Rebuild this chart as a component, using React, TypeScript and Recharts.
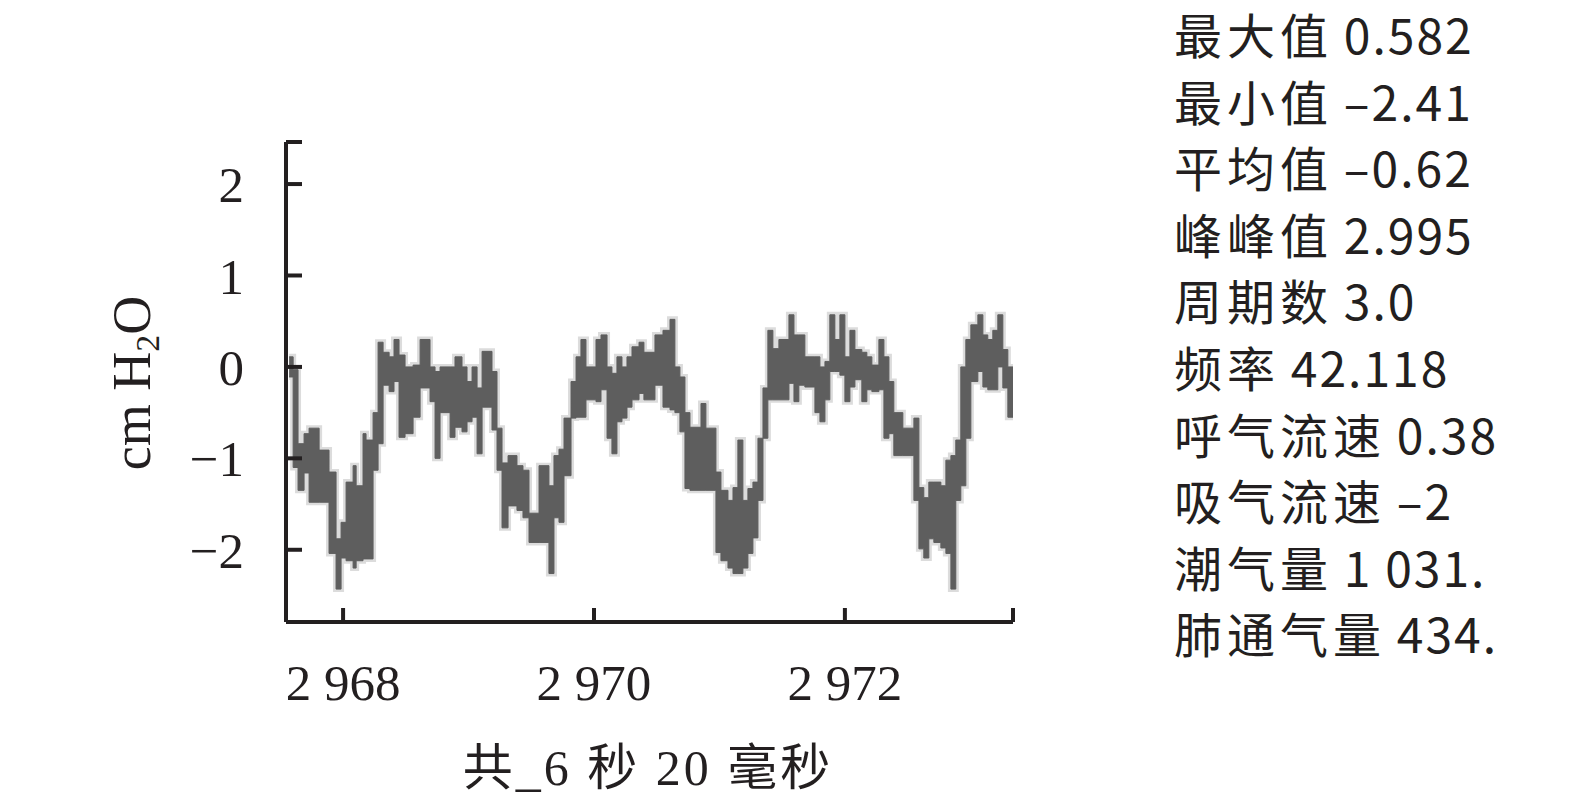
import { Area, ComposedChart, XAxis, YAxis } from 'recharts'

// time (s) and envelope of the pressure trace (cm H2O)
const times = [
  2967.57, 2967.602, 2967.641, 2967.689, 2967.729, 2967.809, 2967.888, 2967.944, 2967.984, 2968.024,
  2968.08, 2968.104, 2968.159, 2968.183, 2968.239, 2968.279, 2968.319, 2968.367, 2968.406, 2968.446,
  2968.494, 2968.558, 2968.614, 2968.693, 2968.733, 2968.773, 2968.853, 2968.892, 2968.948, 2968.988,
  2969.028, 2969.068, 2969.108, 2969.187, 2969.227, 2969.267, 2969.315, 2969.386, 2969.434, 2969.482,
  2969.562, 2969.641, 2969.681, 2969.721, 2969.761, 2969.817, 2969.857, 2969.896, 2969.936, 2970.016,
  2970.056, 2970.104, 2970.143, 2970.183, 2970.223, 2970.263, 2970.303, 2970.359, 2970.398, 2970.486,
  2970.55, 2970.606, 2970.645, 2970.685, 2970.725, 2970.765, 2970.853, 2970.892, 2970.972, 2971.012,
  2971.068, 2971.108, 2971.147, 2971.187, 2971.227, 2971.267, 2971.307, 2971.347, 2971.386, 2971.426,
  2971.474, 2971.554, 2971.594, 2971.633, 2971.681, 2971.761, 2971.801, 2971.841, 2971.88, 2971.92,
  2971.96, 2972.0, 2972.04, 2972.08, 2972.135, 2972.175, 2972.215, 2972.271, 2972.311, 2972.351,
  2972.39, 2972.462, 2972.55, 2972.59, 2972.629, 2972.669, 2972.709, 2972.765, 2972.805, 2972.845,
  2972.884, 2972.924, 2972.964, 2973.004, 2973.06, 2973.1, 2973.139, 2973.179, 2973.219, 2973.259,
  2973.299, 2973.34,
]
const highs = [
  0.11, -0.03, -0.84, -0.73, -0.67, -0.91, -1.15, -1.88, -1.7, -1.26,
  -1.08, -1.3, -0.73, -0.8, -0.5, 0.27, 0.16, 0.11, 0.3, 0.13,
  0.0, 0.02, 0.3, 0.0, -0.05, 0.0, 0.0, 0.11, 0.0, -0.16,
  0.0, -0.23, 0.17, -0.05, -0.67, -1.05, -0.97, -1.08, -1.13, -1.6,
  -1.08, -1.3, -0.97, -0.9, -0.56, -0.16, 0.11, 0.3, 0.0, 0.3,
  0.35, 0.0, -0.07, 0.11, 0.0, 0.11, 0.22, 0.27, 0.16, 0.35,
  0.4, 0.52, 0.0, -0.11, -0.5, -0.66, -0.4, -0.67, -1.15, -1.35,
  -1.46, -1.32, -0.8, -1.46, -1.33, -1.26, -0.78, -0.23, 0.4, 0.2,
  0.3, 0.57, 0.35, 0.35, 0.11, 0.11, 0.0, 0.06, 0.57, 0.3,
  0.57, 0.11, 0.4, 0.19, 0.16, 0.11, 0.02, 0.3, 0.11, -0.16,
  -0.5, -0.67, -0.56, -1.32, -1.43, -1.26, -1.26, -1.3, -1.02, -0.97,
  -0.8, 0.0, 0.3, 0.46, 0.57, 0.35, 0.3, 0.4, 0.57, 0.19,
  0.0, 0.0,
]
const lows = [
  -0.11, -1.1, -1.35, -1.16, -1.48, -1.48, -2.04, -2.43, -2.09, -2.12,
  -2.2, -2.12, -2.1, -2.1, -1.13, -0.84, -0.2, -0.27, -0.16, -0.77,
  -0.73, -0.55, -0.23, -0.38, -1.0, -0.5, -0.77, -0.66, -0.71, -0.6,
  -0.55, -0.95, -0.44, -0.69, -1.13, -1.76, -1.52, -1.57, -1.65, -1.92,
  -1.92, -2.26, -1.65, -1.7, -1.19, -0.56, -0.55, -0.55, -0.36, -0.38,
  -0.25, -0.78, -0.95, -0.6, -0.56, -0.44, -0.36, -0.29, -0.36, -0.2,
  -0.44, -0.47, -0.5, -0.71, -1.33, -1.35, -1.35, -1.35, -2.03, -2.12,
  -2.2, -2.26, -2.26, -2.2, -2.04, -1.87, -1.46, -0.78, -0.36, -0.36,
  -0.36, -0.18, -0.38, -0.2, -0.22, -0.5, -0.6, -0.36, -0.05, -0.05,
  -0.09, -0.38, -0.22, -0.14, -0.38, -0.25, -0.27, -0.25, -0.78, -0.73,
  -0.97, -0.97, -1.46, -1.99, -2.09, -1.88, -1.92, -1.98, -2.04, -2.43,
  -1.46, -1.3, -0.78, -0.16, -0.05, -0.22, -0.25, -0.25, 0.0, -0.23,
  -0.55, -0.55,
]

const xTicks = [2968, 2970, 2972, 2973.34]
const yTicks = [-2, -1, 0, 1, 2, 2.46]

const statLabels = ['最大值', '最小值', '平均值', '峰峰值', '周期数', '频率', '呼气流速', '吸气流速', '潮气量', '肺通气量']
const statValues = ['0.582', '–2.41', '–0.62', '2.995', '3.0', '42.118', '0.38', '–2', '1 031.', '434.']

const data = times.map((t, i) => ({ t, band: [lows[i], highs[i]] }))

const INK = '#231f20'
const SERIF = "'Liberation Serif', 'Times New Roman', serif"

const fmtX = (v: number) =>
  Number.isInteger(v) ? String(v).replace(/\B(?=(\d{3})+(?!\d))/g, ' ') : ''
const fmtY = (v: number) => (Number.isInteger(v) ? (v < 0 ? '−' + Math.abs(v) : String(v)) : '')

export default function App() {
  return (
    <div style={{ position: 'absolute', left: 0, top: 0, width: 1575, height: 803, background: '#fff' }}>
      <div style={{ position: 'absolute', left: 0, top: 0 }}>
        <ComposedChart width={1100} height={803} data={data} margin={{ top: 142, right: 87, left: 0, bottom: 121 }}>
          <XAxis
            dataKey="t"
            type="number"
            domain={[2967.545, 2973.34]}
            ticks={xTicks}
            interval={0}
            allowDataOverflow
            height={60}
            tickSize={-14}
            tickMargin={56}
            tickFormatter={fmtX}
            axisLine={{ stroke: INK, strokeWidth: 4 }}
            tickLine={{ stroke: INK, strokeWidth: 4 }}
            tick={{ fill: INK, fontSize: 51, fontFamily: SERIF }}
          />
          <YAxis
            type="number"
            domain={[-2.79, 2.46]}
            ticks={yTicks}
            interval={0}
            allowDataOverflow
            width={286}
            tickSize={-16}
            tickMargin={58}
            tickFormatter={fmtY}
            axisLine={{ stroke: INK, strokeWidth: 4 }}
            tickLine={{ stroke: INK, strokeWidth: 4 }}
            tick={{ fill: INK, fontSize: 51, fontFamily: SERIF }}
          />
          <Area
            dataKey="band"
            type="stepAfter"
            fill="#dcdcdc"
            fillOpacity={1}
            stroke="#dcdcdc"
            strokeWidth={6}
            isAnimationActive={false}
          />
          <Area
            dataKey="band"
            type="stepAfter"
            fill="#5e5e5e"
            fillOpacity={1}
            stroke="#5e5e5e"
            strokeWidth={1}
            isAnimationActive={false}
          />
        </ComposedChart>
      </div>

      {/* y axis title */}
      <div
        style={{
          position: 'absolute',
          left: 140,
          top: 383,
          transform: 'translate(-50%, -50%) rotate(-90deg)',
          fontFamily: SERIF,
          fontSize: 54,
          color: INK,
          whiteSpace: 'nowrap',
          lineHeight: '64px',
        }}
      >
        cm H<sub style={{ fontSize: 34, verticalAlign: '-9px' }}>2</sub>O
      </div>

      {/* x axis title */}
      <div
        style={{
          position: 'absolute',
          left: 398,
          width: 500,
          top: 738,
          textAlign: 'center',
          fontFamily: "'Liberation Serif', 'Noto Sans CJK SC', serif",
          fontSize: 50,
          letterSpacing: 3,
          lineHeight: '60px',
          color: INK,
          whiteSpace: 'nowrap',
        }}
      >
        共_6 秒 20 毫秒
      </div>

      {/* statistics */}
      {statLabels.map((label, i) => (
        <div
          key={label}
          style={{
            position: 'absolute',
            left: 1174,
            top: 0 + i * 66.6,
            height: 66,
            lineHeight: '66px',
            fontFamily: "'Noto Sans CJK SC', sans-serif",
            fontSize: 48,
            color: INK,
            whiteSpace: 'nowrap',
          }}
        >
          <span style={{ letterSpacing: 5 }}>{label}</span>{' '}
          <span style={{ letterSpacing: 2 }}>{statValues[i]}</span>
        </div>
      ))}
    </div>
  )
}
